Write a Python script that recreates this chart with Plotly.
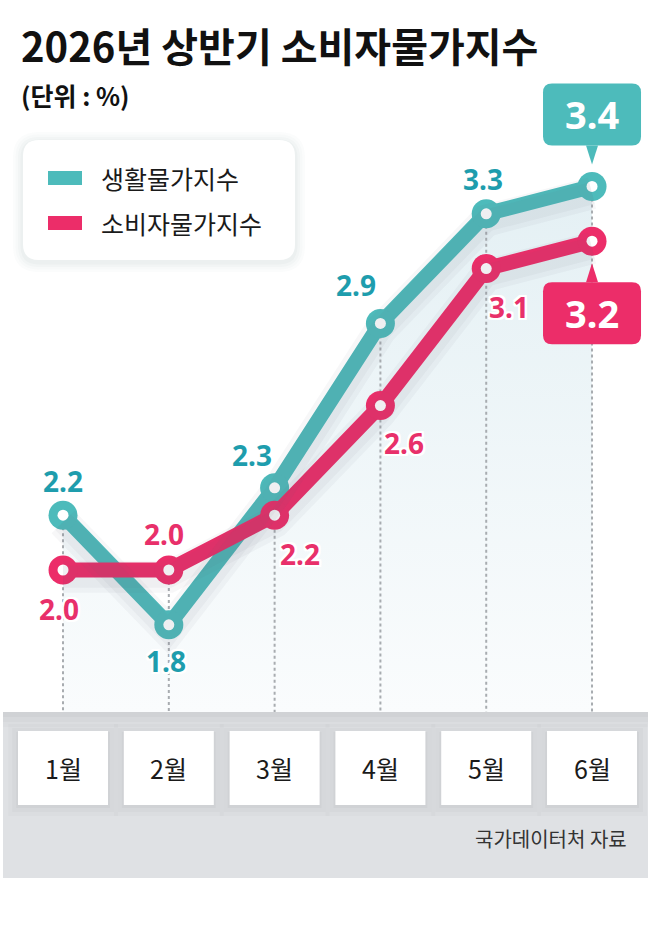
import plotly.graph_objects as go

# ---------------- data ----------------
months = ["1월", "2월", "3월", "4월", "5월", "6월"]
living = [2.2, 1.8, 2.3, 2.9, 3.3, 3.4]      # 생활물가지수
consumer = [2.0, 2.0, 2.2, 2.6, 3.1, 3.2]    # 소비자물가지수
series_names = ["생활물가지수", "소비자물가지수"]
title_text = "2026년 상반기 소비자물가지수"
unit_text = "(단위 : %)"
source_text = "국가데이터처 자료"

# ---------------- style ----------------
W, H = 650, 933
TEAL = "#4dbbbb"
TEAL_TXT = "#1e9dad"
PINK = "#ec2d69"
PINK_TXT = "#e8306a"
KFONT = "Noto Sans CJK KR"
NFONT = "Noto Sans"

# axis geometry (layout, not data)
XR = [-0.5955, 5.548]
YR = [1.4818, 4.0803]
PLOT_BOTTOM_PX = 712
ydom = [1 - PLOT_BOTTOM_PX / H, 1]
SHADOW_D = 0.025

x = list(range(len(months)))


def px(v):
    return v / W


def py(v):
    return 1 - v / H


def rrect_paper(x0, y0, x1, y1, r):
    rx, ry = r / W, r / H
    a, b, c, d = px(x0), py(y0), px(x1), py(y1)
    return (f"M {a+rx},{b} L {c-rx},{b} Q {c},{b} {c},{b-ry} L {c},{d+ry} "
            f"Q {c},{d} {c-rx},{d} L {a+rx},{d} Q {a},{d} {a},{d+ry} "
            f"L {a},{b-ry} Q {a},{b} {a+rx},{b} Z")


def rrect_pix(x0, y0, x1, y1, r):
    # pixel offsets relative to anchor, y positive up; y0 bottom, y1 top
    return (f"M {x0+r},{y1} L {x1-r},{y1} Q {x1},{y1} {x1},{y1-r} L {x1},{y0+r} "
            f"Q {x1},{y0} {x1-r},{y0} L {x0+r},{y0} Q {x0},{y0} {x0},{y0+r} "
            f"L {x0},{y1-r} Q {x0},{y1} {x0+r},{y1} Z")


fig = go.Figure()

# gradient area under the upper line
fig.add_trace(go.Scatter(
    x=x, y=living, mode="lines", line=dict(width=0, color="rgba(0,0,0,0)"),
    fill="tozeroy",
    fillgradient=dict(type="vertical",
                      colorscale=[[0, "rgba(250,252,253,1)"], [1, "rgba(228,240,244,1)"]],
                      start=YR[0], stop=max(living)),
    hoverinfo="skip", showlegend=False))

# vertical dotted guide lines (drawn over the area fill)
gx, gy = [], []
for i in x:
    gx += [i, i, None]
    gy += [max(living[i], consumer[i]), YR[0], None]
fig.add_trace(go.Scatter(x=gx, y=gy, mode="lines",
                         line=dict(color="#a8acb0", width=2, dash="dot"),
                         hoverinfo="skip", showlegend=False))

# soft shadows under lines (on shifted overlay axis)
for ys in (living, consumer):
    fig.add_trace(go.Scatter(x=x, y=ys, mode="lines", yaxis="y2",
                             line=dict(width=32, color="rgba(90,100,115,0.05)"),
                             hoverinfo="skip", showlegend=False))
    fig.add_trace(go.Scatter(x=x, y=ys, mode="lines", yaxis="y2",
                             line=dict(width=22, color="rgba(90,100,115,0.05)"),
                             hoverinfo="skip", showlegend=False))

# main lines + markers
for ys, col, name in ((living, TEAL, series_names[0]), (consumer, PINK, series_names[1])):
    fig.add_trace(go.Scatter(x=x, y=ys, mode="lines+markers", name=name,
                             line=dict(width=15, color=col),
                             marker=dict(size=29, color=col),
                             showlegend=False))
    fig.add_trace(go.Scatter(x=x, y=ys, mode="markers",
                             marker=dict(size=11, color="white"),
                             hoverinfo="skip", showlegend=False))

shapes = []
annotations = []

# bottom band
shapes.append(dict(type="rect", xref="paper", yref="paper",
                   x0=px(3), x1=px(648), y0=py(712), y1=py(878),
                   fillcolor="#dfe1e4", line=dict(width=0), layer="above"))
# inner top shadow of band
for k, a in enumerate([0.025, 0.02, 0.015]):
    shapes.append(dict(type="rect", xref="paper", yref="paper",
                       x0=px(3), x1=px(648), y0=py(712 + 5 * (k + 1)), y1=py(712),
                       fillcolor=f"rgba(0,0,0,{a})", line=dict(width=0), layer="above"))

# month tiles
for i in x:
    for k, a in enumerate([0.025, 0.02, 0.015]):
        g = 2 + 4 * k
        shapes.append(dict(type="rect", xref="x", yref="paper", xsizemode="pixel", xanchor=i,
                           x0=-45 - g, x1=45 + g, y0=py(806 + g), y1=py(731 - g + 3),
                           fillcolor=f"rgba(0,0,0,{a})", line=dict(width=0), layer="above"))
    shapes.append(dict(type="rect", xref="x", yref="paper", xsizemode="pixel", xanchor=i,
                       x0=-45, x1=45, y0=py(805), y1=py(731),
                       fillcolor="white", line=dict(width=0), layer="above"))
    annotations.append(dict(x=i, xref="x", y=py(768), yref="paper", yanchor="middle",
                            xanchor="center", text=months[i],
                            showarrow=False, font=dict(family=KFONT, size=25, color="#1a1a1a")))

# legend box with shadow
for k, a in enumerate([0.02, 0.02, 0.025, 0.03]):
    g = 10 - 2.5 * k
    shapes.append(dict(type="path", xref="paper", yref="paper",
                       path=rrect_paper(23 - g, 140 - g + 2, 295 + g, 260 + g + 2, 16 + g),
                       fillcolor=f"rgba(60,80,90,{a})", line=dict(width=0), layer="above"))
shapes.append(dict(type="path", xref="paper", yref="paper",
                   path=rrect_paper(23, 140, 295, 260, 16),
                   fillcolor="white", line=dict(width=0), layer="above"))
for (yc, col, name) in ((178, TEAL, series_names[0]), (223, PINK, series_names[1])):
    shapes.append(dict(type="rect", xref="paper", yref="paper",
                       x0=px(48), x1=px(82), y0=py(yc + 7), y1=py(yc - 7),
                       fillcolor=col, line=dict(width=0), layer="above"))
    annotations.append(dict(x=px(99), y=py(yc), xref="paper", yref="paper", text=name,
                            xanchor="left", yanchor="middle", showarrow=False,
                            font=dict(family=KFONT, size=25, color="#1a1a1a")))

# callouts for last values
last = len(x) - 1
for ys, col, up in ((living, TEAL, True), (consumer, PINK, False)):
    s = 1 if up else -1
    if up:
        box = rrect_pix(-49, 41, 49, 103, 9)
        tri = "M -6,41 L 6,41 L 0,22 Z"
    else:
        box = rrect_pix(-49, -103, 49, -41, 9)
        tri = "M -6,-41 L 6,-41 L 0,-22 Z"
    shapes.append(dict(type="path", xref="x", yref="y", xsizemode="pixel", ysizemode="pixel",
                       xanchor=last, yanchor=ys[last], path=tri,
                       fillcolor=col, line=dict(width=0), layer="above"))
    shapes.append(dict(type="path", xref="x", yref="y", xsizemode="pixel", ysizemode="pixel",
                       xanchor=last, yanchor=ys[last], path=box,
                       fillcolor=col, line=dict(width=0), layer="above"))
    annotations.append(dict(x=last, y=ys[last], xref="x", yref="y", yshift=s * 72,
                            text=f"<b>{ys[last]:.1f}</b>", showarrow=False,
                            font=dict(family=NFONT, size=38, color="white")))

# value labels
teal_off = [(0, 34), (-3, -36), (-23, 33), (-24, 38), (-3, 35)]
pink_off = [(-4, -39), (-5, 36), (25, -39), (24, -37), (23, -38)]
halo = "2px 2px 0 #fff, -2px -2px 0 #fff, 2px -2px 0 #fff, -2px 2px 0 #fff, 0 2px 0 #fff, 0 -2px 0 #fff, 2px 0 0 #fff, -2px 0 0 #fff"
for ys, offs, col in ((living, teal_off, TEAL_TXT), (consumer, pink_off, PINK_TXT)):
    for i, (dx, dy) in enumerate(offs):
        annotations.append(dict(x=i, y=ys[i], xref="x", yref="y", xshift=dx, yshift=dy,
                                text=f"<b>{ys[i]:.1f}</b>", showarrow=False,
                                font=dict(family=NFONT, size=28, color=col, shadow=halo)))

# titles & source
annotations.append(dict(x=px(19), y=py(45), xref="paper", yref="paper", xanchor="left",
                        yanchor="middle", text=f"<b>{title_text}</b>", showarrow=False,
                        font=dict(family=KFONT, size=40, color="#111111")))
annotations.append(dict(x=px(19), y=py(95), xref="paper", yref="paper", xanchor="left",
                        yanchor="middle", text=f"<b>{unit_text}</b>", showarrow=False,
                        font=dict(family=KFONT, size=25, color="#111111")))
annotations.append(dict(x=px(629), y=py(838), xref="paper", yref="paper", xanchor="right",
                        yanchor="middle", text=source_text, showarrow=False,
                        font=dict(family=KFONT, size=20, color="#333333")))

fig.update_layout(
    width=W, height=H, margin=dict(l=0, r=0, t=0, b=0),
    paper_bgcolor="white", plot_bgcolor="white",
    xaxis=dict(range=XR, visible=False, fixedrange=True),
    yaxis=dict(range=YR, domain=ydom, visible=False, fixedrange=True),
    yaxis2=dict(range=[YR[0] + SHADOW_D, YR[1] + SHADOW_D], domain=ydom, overlaying="y",
                visible=False, fixedrange=True),
    shapes=shapes, annotations=annotations, showlegend=False,
)

fig.write_html("out.html")
